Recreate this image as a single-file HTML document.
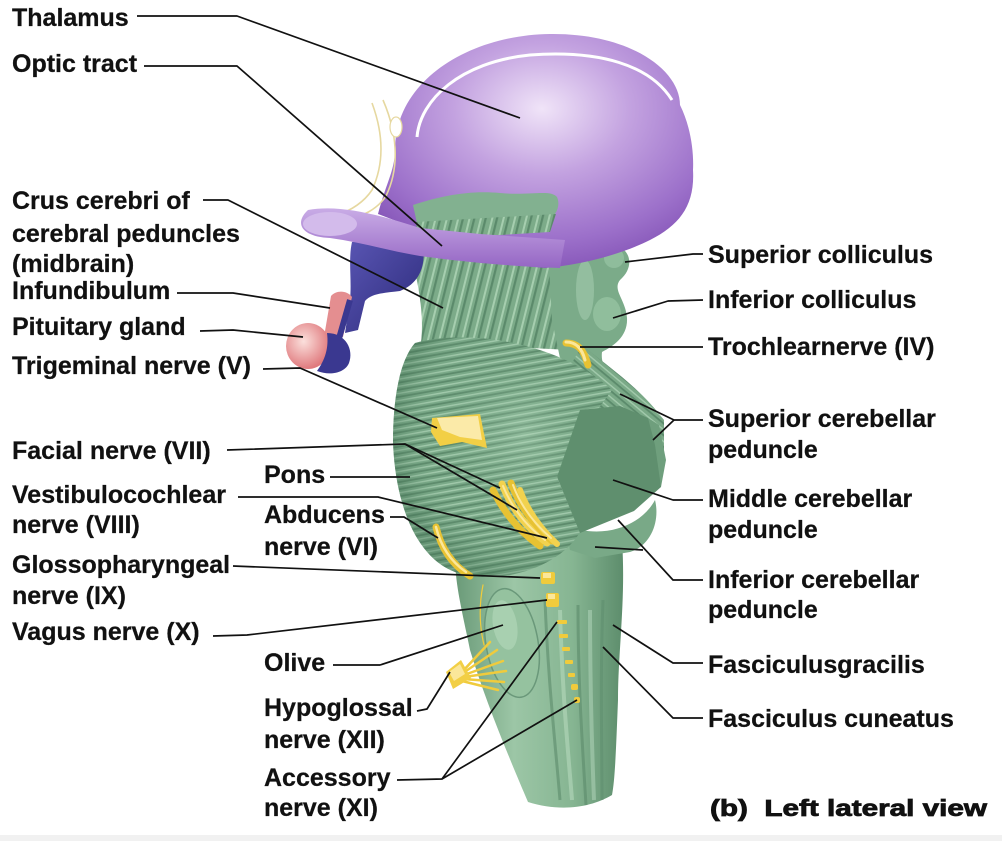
<!DOCTYPE html>
<html><head><meta charset="utf-8">
<style>
html,body{margin:0;padding:0;background:#fff;}
svg{display:block;}
text{font-family:"Liberation Sans",Arial,sans-serif;font-weight:bold;font-size:25px;fill:#111;stroke:#111;stroke-width:0.25;}
</style></head><body>
<svg width="1002" height="841" viewBox="0 0 1002 841" xmlns="http://www.w3.org/2000/svg">
<defs>
 <radialGradient id="thal" cx="0.52" cy="0.32" r="0.7">
  <stop offset="0" stop-color="#f0e4f8"/>
  <stop offset="0.4" stop-color="#c3a2e0"/>
  <stop offset="0.8" stop-color="#9c70ca"/>
  <stop offset="1" stop-color="#8656b8"/>
 </radialGradient>
 <linearGradient id="band" x1="0" y1="0" x2="0" y2="1">
  <stop offset="0" stop-color="#c9ace6"/><stop offset="1" stop-color="#9566c4"/>
 </linearGradient>
 <linearGradient id="navy" x1="0" y1="0" x2="1" y2="1">
  <stop offset="0" stop-color="#5a56b4"/><stop offset="1" stop-color="#2c2a7a"/>
 </linearGradient>
 <radialGradient id="pink" cx="0.4" cy="0.4" r="0.6">
  <stop offset="0" stop-color="#fbe0dc"/><stop offset="1" stop-color="#e07a7e"/>
 </radialGradient>
 <linearGradient id="med" x1="0" y1="0" x2="1" y2="0">
  <stop offset="0" stop-color="#6a9a78"/>
  <stop offset="0.35" stop-color="#9cc6a6"/>
  <stop offset="0.7" stop-color="#86b592"/>
  <stop offset="1" stop-color="#5d8d6c"/>
 </linearGradient>
 <pattern id="hstripe" width="10" height="7" patternUnits="userSpaceOnUse" patternTransform="rotate(-10)">
  <rect width="10" height="7" fill="#7aa988"/>
  <rect y="4.2" width="10" height="1.8" fill="#5c8a6b"/>
  <rect y="1" width="10" height="1.4" fill="#a2caac"/>
 </pattern>
 <pattern id="vstripe" width="11" height="10" patternUnits="userSpaceOnUse" patternTransform="rotate(14)">
  <rect width="11" height="10" fill="#7cab89"/>
  <rect x="6" width="2.2" height="10" fill="#5b8a6b"/>
  <rect x="1.5" width="2" height="10" fill="#a6ceaf"/>
 </pattern>
 <pattern id="dstripe" width="9" height="9" patternUnits="userSpaceOnUse" patternTransform="rotate(40)">
  <rect width="9" height="9" fill="#7aa987"/>
  <rect y="5" width="9" height="1.8" fill="#5b8a6b"/>
  <rect y="1" width="9" height="1.4" fill="#a2caac"/>
 </pattern>
 <radialGradient id="ponsShade" cx="0.6" cy="0.4" r="0.6">
  <stop offset="0" stop-color="#b8dcc0" stop-opacity="0.35"/>
  <stop offset="0.7" stop-color="#7aa988" stop-opacity="0"/>
  <stop offset="1" stop-color="#3f6e50" stop-opacity="0.35"/>
 </radialGradient>
</defs>

<rect width="1002" height="841" fill="#fff"/>
<rect x="0" y="835" width="1002" height="6" fill="#f1f1f1"/>

<!-- medulla -->
<path d="M455 555 L622 540 C626 600 618 650 618 700 C616 750 615 780 612 795 C590 808 560 812 528 802 C510 760 485 700 470 650 C462 610 455 585 455 555 Z" fill="url(#med)"/>
<path d="M545 600 C548 680 555 740 560 800" stroke="#5c8b6b" stroke-width="3" fill="none" opacity="0.6"/>
<path d="M578 605 C578 680 582 740 586 805" stroke="#5c8b6b" stroke-width="3" fill="none" opacity="0.6"/>
<path d="M603 600 C600 680 602 740 602 800" stroke="#5c8b6b" stroke-width="3" fill="none" opacity="0.5"/>
<path d="M560 610 C562 690 568 750 572 800" stroke="#b6d8bd" stroke-width="4" fill="none" opacity="0.6"/>
<path d="M590 610 C590 690 592 750 594 800" stroke="#b6d8bd" stroke-width="4" fill="none" opacity="0.5"/>
<!-- olive -->
<ellipse cx="512" cy="643" rx="26" ry="55" transform="rotate(-10 512 643)" fill="#95c29f" stroke="#6a987a" stroke-width="1.5"/>
<ellipse cx="505" cy="625" rx="12" ry="25" transform="rotate(-10 505 625)" fill="#b5d8bc" opacity="0.6"/>

<!-- inferior cerebellar bulge -->
<path d="M565 525 C600 540 640 528 655 500 C660 520 652 545 630 552 L595 558 L570 550 Z" fill="#79a987"/>

<!-- midbrain -->
<path d="M410 250 L565 250 L575 300 L570 350 L470 345 L420 350 C425 320 420 290 410 250 Z" fill="url(#vstripe)"/>
<!-- colliculi column -->
<path d="M548 246 L615 245 C632 250 634 268 620 280 C612 290 626 300 627 318 C628 336 614 346 602 352 C600 368 612 378 626 390 L600 402 L565 382 L552 320 Z" fill="#7bab89"/>
<ellipse cx="614" cy="258" rx="10" ry="10" fill="#8fbd9c"/>
<ellipse cx="607" cy="314" rx="14" ry="17" fill="#90be9c"/>
<ellipse cx="585" cy="290" rx="9" ry="30" fill="#a3cbad" opacity="0.6"/>
<!-- superior cerebellar peduncle -->
<path d="M582 345 C610 368 640 388 664 420 L664 452 L600 425 L558 388 Z" fill="url(#dstripe)"/>

<!-- pons -->
<path d="M415 343 C470 328 560 343 612 390 L590 420 L557 477 L580 532 C560 567 500 587 455 572 C415 557 395 502 393 442 C393 397 400 360 415 343 Z" fill="url(#hstripe)"/>
<path d="M415 343 C470 328 560 343 612 390 L590 420 L557 477 L580 532 C560 567 500 587 455 572 C415 557 395 502 393 442 C393 397 400 360 415 343 Z" fill="url(#ponsShade)"/>

<!-- cut face -->
<polygon points="580,410 620,406 648,418 659,440 661,487 634,511 580,533 557,477" fill="#5f8f6e"/>
<polygon points="648,418 659,425 666,460 661,487 655,445" fill="#6f9f7d"/>

<!-- navy funnel / pituitary -->
<path d="M352 242 C370 240 400 240 423 245 C426 265 420 283 400 291 C385 293 372 293 365 301 L358 330 L345 333 L350 300 C352 280 348 260 352 242 Z" fill="url(#navy)"/>
<path d="M331 296 C336 290 347 290 352 297 L343 337 L324 337 Z" fill="#e48e90"/>
<path d="M350 300 L338 342" stroke="#3a3890" stroke-width="6" fill="none"/>
<ellipse cx="308" cy="346" rx="22" ry="23" fill="url(#pink)"/>
<path d="M327 333 C346 333 354 350 349 363 C345 373 330 376 317 371 C325 360 329 348 327 333 Z" fill="#3a3890"/>

<!-- thalamus -->
<path d="M395 150 C395 80 470 35 550 34 C630 33 680 70 680 105 C690 125 694 150 693 170 C695 205 680 225 650 240 C620 255 580 265 545 268 L440 258 L425 232 L378 214 C385 186 395 170 395 150 Z" fill="url(#thal)"/>
<path d="M417 137 C420 100 460 62 530 55 C600 50 650 65 672 100" stroke="#fff" stroke-width="3" fill="none"/>
<path d="M372 103 C382 130 386 160 372 190 C362 205 347 212 335 216" stroke="#e6d8a0" stroke-width="1.6" fill="none"/>
<path d="M383 100 C396 130 401 165 386 196 C376 211 361 216 350 219" stroke="#e6d8a0" stroke-width="1.6" fill="none"/>
<ellipse cx="396" cy="127" rx="6" ry="10" fill="#fff" stroke="#e6d8a0" stroke-width="1.2"/>
<path d="M413 205 C440 196 470 190 500 193 C530 196 550 189 557 197 C561 206 556 216 546 223 C510 226 470 231 420 237 Z" fill="#82b190"/>
<path d="M416 222 L556 214 L550 232 L418 240 Z" fill="url(#vstripe)"/>
<path d="M308 210 C340 204 380 215 420 228 L480 234 L565 240 L560 268 C500 266 450 260 420 256 C390 251 360 242 330 238 C303 237 293 224 308 210 Z" fill="url(#band)"/>
<ellipse cx="330" cy="224" rx="27" ry="12" fill="#d3bbeb"/>

<!-- yellow nerves -->
<path d="M566 343 C578 343 584 350 588 365" stroke="#e8c232" stroke-width="7" fill="none" stroke-linecap="round"/>
<path d="M566 342 C576 342 582 348 585 360" stroke="#fbe79a" stroke-width="3" fill="none" stroke-linecap="round"/>
<polygon points="432,418 480,414 487,448 462,442 440,446 431,432" fill="#f2cf45"/>
<polygon points="437,418 478,416 482,440 460,437 442,430" fill="#fbeaa8"/>
<g fill="none" stroke-linecap="round">
 <path d="M493 490 Q510 525 540 546" stroke="#e8c232" stroke-width="7"/>
 <path d="M502 484 Q516 520 547 543" stroke="#f2d24e" stroke-width="7"/>
 <path d="M511 483 Q523 515 552 541" stroke="#e8c232" stroke-width="7"/>
 <path d="M520 490 Q531 520 557 544" stroke="#f2d24e" stroke-width="6"/>
 <path d="M503 486 Q516 518 545 540" stroke="#fbe79a" stroke-width="2"/>
 <path d="M513 485 Q524 515 551 538" stroke="#fbe79a" stroke-width="2"/>
</g>
<path d="M436 527 Q444 560 470 576" stroke="#e8c232" stroke-width="7" fill="none" stroke-linecap="round"/>
<path d="M436 527 Q443 556 466 572" stroke="#fbe79a" stroke-width="2.5" fill="none" stroke-linecap="round"/>
<rect x="541" y="572" width="14" height="12" rx="2" fill="#f0cb3c"/>
<rect x="543" y="573" width="8" height="5" fill="#fbe79a"/>
<rect x="546" y="593" width="13" height="14" rx="2" fill="#f0cb3c"/>
<rect x="548" y="594" width="7" height="5" fill="#fbe79a"/>
<g fill="#f0cb3c">
 <rect x="557" y="620" width="10" height="4" rx="1"/>
 <rect x="559" y="634" width="9" height="4" rx="1"/>
 <rect x="562" y="647" width="8" height="4" rx="1"/>
 <rect x="565" y="660" width="8" height="4" rx="1"/>
 <rect x="568" y="673" width="7" height="4" rx="1"/>
 <rect x="571" y="684" width="7" height="6" rx="2"/>
 <rect x="574" y="697" width="6" height="6" rx="2"/>
</g>
<g stroke="#f0cb3c" stroke-width="2.5" fill="none" stroke-linecap="round">
 <path d="M462 672 L490 642"/><path d="M463 673 L497 650"/><path d="M464 675 L503 661"/>
 <path d="M464 677 L506 671"/><path d="M463 679 L504 682"/><path d="M462 681 L498 690"/>
 <path d="M484 645 C478 620 480 600 483 585" stroke-width="1.2"/>
</g>
<polygon points="446,672 461,660 471,678 453,689" fill="#f2cf45"/>
<polygon points="449,672 460,664 465,674 454,681" fill="#fbe79a"/>

<!-- leader lines -->
<g stroke="#111" stroke-width="1.7" fill="none" stroke-linejoin="round">
 <polyline points="137,16 237,16 520,118"/>
 <polyline points="144,66 237,66 442,246"/>
 <polyline points="203,200 228,200 443,308"/>
 <polyline points="177,293 233,293 330,308"/>
 <polyline points="200,331 233,330 303,337"/>
 <polyline points="263,369 300,368 437,428"/>
 <polyline points="227,450 405,444 500,488"/>
 <polyline points="405,444 517,510"/>
 <polyline points="238,497 378,497 547,538"/>
 <polyline points="330,477 410,477"/>
 <polyline points="390,517 404,517 438,538"/>
 <polyline points="233,566 540,578"/>
 <polyline points="213,636 247,635 547,600"/>
 <polyline points="333,665 380,665 503,625"/>
 <polyline points="417,711 427,709 450,672"/>
 <polyline points="397,780 442,779 557,622"/>
 <polyline points="442,779 577,700"/>
 <polyline points="703,254 693,254 625,262"/>
 <polyline points="703,300 668,301 613,318"/>
 <polyline points="703,347 580,347"/>
 <polyline points="703,420 674,420 620,394"/>
 <polyline points="674,420 653,440"/>
 <polyline points="703,500 673,500 613,480"/>
 <polyline points="703,580 673,580 618,520"/>
 <polyline points="595,547 643,550"/>
 <polyline points="703,663 673,663 613,625"/>
 <polyline points="703,718 673,718 603,647"/>
</g>

<!-- labels -->
<text x="12" y="26">Thalamus</text>
<text x="12" y="72">Optic tract</text>
<text x="12" y="209">Crus cerebri of</text>
<text x="12" y="242">cerebral peduncles</text>
<text x="12" y="272">(midbrain)</text>
<text x="12" y="299">Infundibulum</text>
<text x="12" y="335">Pituitary gland</text>
<text x="12" y="374">Trigeminal nerve (V)</text>
<text x="12" y="459">Facial nerve (VII)</text>
<text x="12" y="503">Vestibulocochlear</text>
<text x="12" y="533">nerve (VIII)</text>
<text x="12" y="573">Glossopharyngeal</text>
<text x="12" y="604">nerve (IX)</text>
<text x="12" y="640">Vagus nerve (X)</text>

<text x="264" y="483">Pons</text>
<text x="264" y="523">Abducens</text>
<text x="264" y="555">nerve (VI)</text>
<text x="264" y="671">Olive</text>
<text x="264" y="716">Hypoglossal</text>
<text x="264" y="748">nerve (XII)</text>
<text x="264" y="786">Accessory</text>
<text x="264" y="816">nerve (XI)</text>

<text x="708" y="263">Superior colliculus</text>
<text x="708" y="308">Inferior colliculus</text>
<text x="708" y="355">Trochlearnerve (IV)</text>
<text x="708" y="427">Superior cerebellar</text>
<text x="708" y="458">peduncle</text>
<text x="708" y="507">Middle cerebellar</text>
<text x="708" y="538">peduncle</text>
<text x="708" y="588">Inferior cerebellar</text>
<text x="708" y="618">peduncle</text>
<text x="708" y="673">Fasciculusgracilis</text>
<text x="708" y="727">Fasciculus cuneatus</text>

<text x="710" y="816" textLength="277" lengthAdjust="spacingAndGlyphs" style="font-size:23px;stroke:#111;stroke-width:0.8" xml:space="preserve">(b)  Left lateral view</text>
</svg>
</body></html>
